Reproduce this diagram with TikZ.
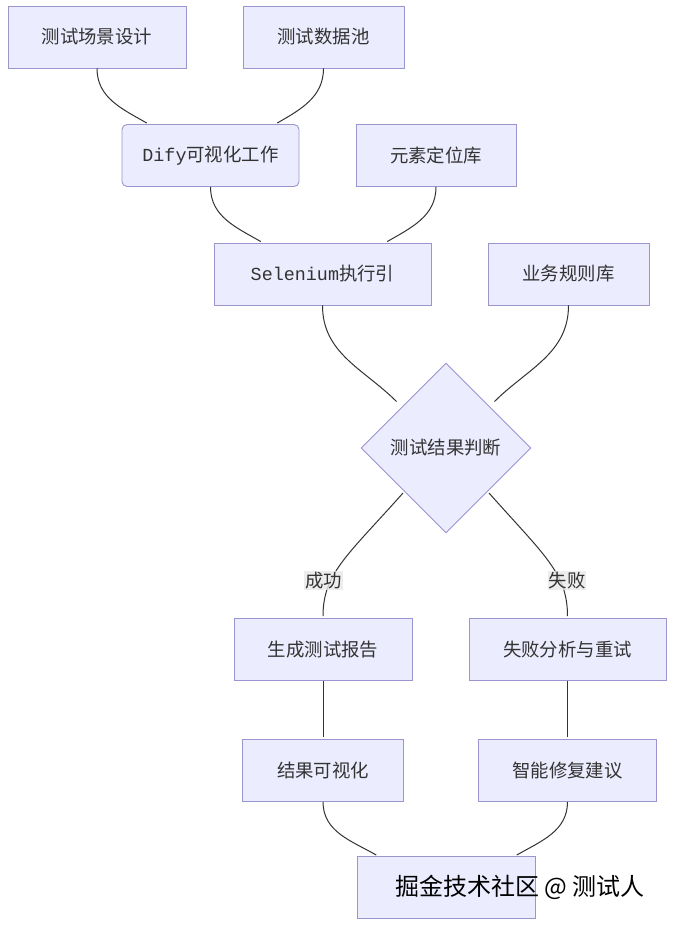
\documentclass[tikz,border=0pt]{standalone}
\usepackage{fontspec}
\setmainfont{Noto Sans CJK SC}
\newfontfamily\codefont{Liberation Mono}
\usetikzlibrary{shapes.geometric, positioning}

\definecolor{boxfill}{HTML}{ECECFF}
\definecolor{boxline}{HTML}{9A94CF}
\definecolor{inkline}{HTML}{333333}
\definecolor{lblfill}{HTML}{E8E8E8}

\tikzset{
  proc/.style = {draw=boxline, fill=boxfill, line width=0.9pt, minimum height=62pt,
                 inner sep=0pt, text=inkline, font=\fontsize{18.4pt}{22pt}\selectfont},
  flow/.style = {draw=inkline, line width=1pt, shorten >=2pt},
  lbl/.style  = {fill=lblfill, fill opacity=0.8, text opacity=1, inner sep=1pt,
                 text=inkline, font=\fontsize{18.4pt}{22pt}\selectfont}
}

\begin{document}
\begin{tikzpicture}[x=1pt, y=1pt]
   \useasboundingbox (0,0) rectangle (675,-927);

   \node (scene)[proc, minimum width=178pt] at (97,-37) {测试场景设计};
   \node (data)[proc, minimum width=161pt] at (323.5,-37) {测试数据池};
   \node (dify)[proc, rounded corners=5pt, minimum width=177pt] at (210.5,-155.5) {{\codefont Dify}可视化工作};
   \node (locator)[proc, minimum width=160pt] at (436,-155.5) {元素定位库};
   \node (selenium)[proc, minimum width=217pt] at (322.5,-274) {{\codefont Selenium}执行引};
   \node (rules)[proc, minimum width=161pt] at (568.5,-274) {业务规则库};
   \node (judge)[proc, diamond, minimum size=170pt] at (446,-448) {测试结果判断};
   \node (report)[proc, minimum width=178pt] at (323,-649.5) {生成测试报告};
   \node (retry)[proc, minimum width=197pt] at (567.5,-649.5) {失败分析与重试};
   \node (visual)[proc, minimum width=161pt, below = 58pt of report] {结果可视化};
   \node (advice)[proc, minimum width=178pt, below = 58pt of retry] {智能修复建议};
   \node (final)[proc, minimum width=178pt] at (446,-887.5) {};
   \node (wm)[anchor=west, text=black, font=\fontsize{24pt}{28pt}\selectfont] at ([xshift=35pt]final.west) {掘金技术社区 @ 测试人};

   \path[flow](scene.south) to[out=-90, in=150] ([xshift=-62pt]dify.north);
   \path[flow](data.south) to[out=-90, in=30] ([xshift=65pt]dify.north);
   \path[flow](dify.south) to[out=-90, in=150] ([xshift=-60pt]selenium.north);
   \path[flow](locator.south) to[out=-90, in=30] ([xshift=63pt]selenium.north);
   \path[flow](selenium.south) to[out=-90, in=135] ([xshift=-48pt, yshift=45pt]judge.center);
   \path[flow](rules.south) to[out=-90, in=45] ([xshift=47pt, yshift=45pt]judge.center);
   \path[flow]([xshift=-43pt, yshift=-45pt]judge.center) .. controls +(-55,-62) and +(0,45) .. node[lbl, pos=0.68, xshift=-7pt] {成功} (report.north);
   \path[flow]([xshift=43pt, yshift=-45pt]judge.center) .. controls +(55,-62) and +(0,45) .. node[lbl, pos=0.68, xshift=7pt] {失败} (retry.north);
   \path[flow](report.south) -- (visual.north);
   \path[flow](retry.south) -- (advice.north);
   \path[flow](visual.south) to[out=-90, in=150] ([xshift=-68pt]final.north);
   \path[flow](advice.south) to[out=-90, in=30] ([xshift=69pt]final.north);

\end{tikzpicture}
\end{document}
